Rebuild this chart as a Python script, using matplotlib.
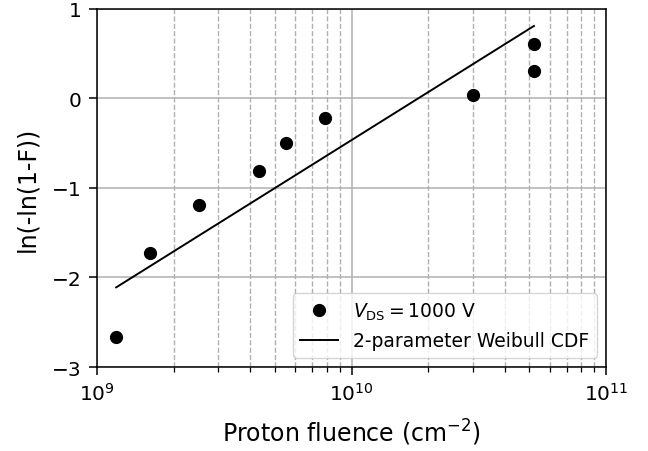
import numpy as np
import matplotlib
matplotlib.use("Agg")
import matplotlib.pyplot as plt

# data
fluence = [1.19e9, 1.61e9, 2.52e9, 4.34e9, 5.53e9, 7.87e9, 3.0e10, 5.21e10, 5.21e10]
weibull_y = [-2.665, -1.726, -1.19, -0.81, -0.497, -0.218, 0.039, 0.307, 0.609]

# fitted 2-parameter Weibull CDF, end points
fit_x = [1.19e9, 5.21e10]
fit_y = [-2.11, 0.81]

fig = plt.figure(figsize=(6.48, 4.52), dpi=100)
ax = fig.add_axes([0.1497, 0.1858, 0.7855, 0.7922])

ax.plot(fluence, weibull_y, "o", color="black", markersize=8.5,
        label=r"$V_{\mathrm{DS}} = 1000$ V")
ax.plot(fit_x, fit_y, "-", color="black", linewidth=1.4,
        label="2-parameter Weibull CDF")

ax.set_xscale("log")
ax.set_xlim(1e9, 1e11)
ax.set_ylim(-3, 1)
ax.set_yticks([-3, -2, -1, 0, 1])
ax.tick_params(axis="both", which="major", labelsize=14.5, length=6, width=1.1, pad=5)
ax.tick_params(axis="x", which="minor", length=3.5, width=0.9)
ax.set_xlabel(r"Proton fluence (cm$^{-2}$)", fontsize=17, labelpad=9)
ax.set_ylabel("ln(-ln(1-F))", fontsize=17, labelpad=9)
for s in ax.spines.values():
    s.set_linewidth(1.1)

ax.grid(True, which="major", color="#b0b0b0", linestyle="-", linewidth=1.1)
ax.grid(True, which="minor", axis="x", color="#b0b0b0", linestyle="--", linewidth=1.0)
ax.set_axisbelow(True)

ax.legend(loc="lower right", fontsize=13.5)

fig.savefig("out.png", dpi=100)
